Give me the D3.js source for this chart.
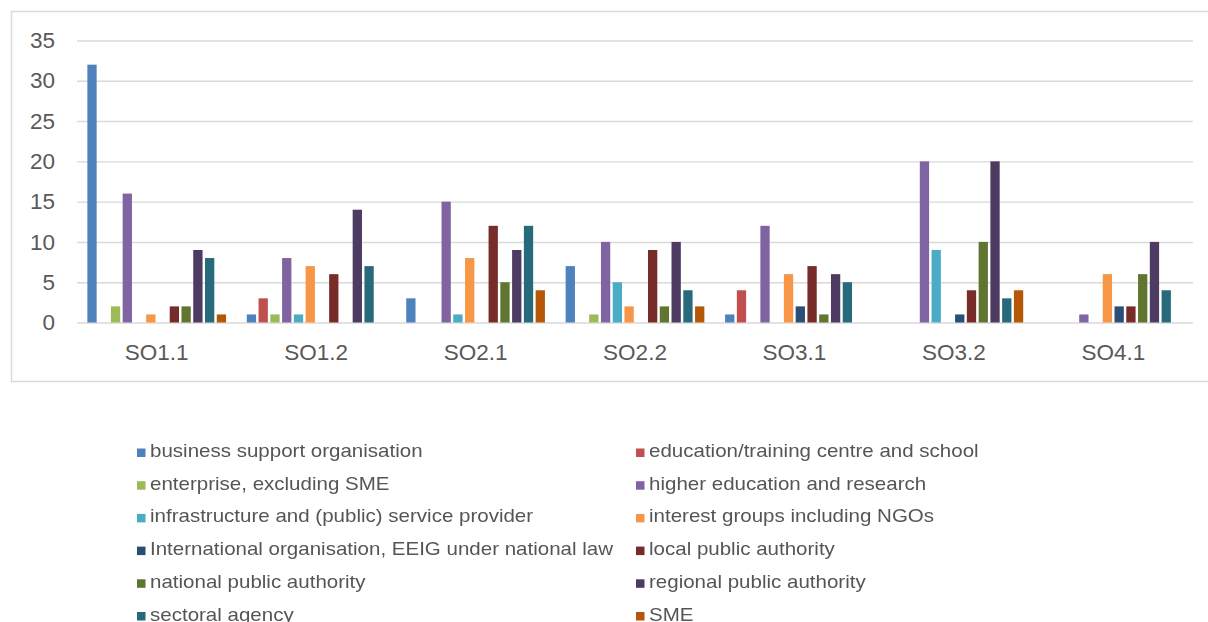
<!DOCTYPE html>
<html>
<head>
<meta charset="utf-8">
<script src="https://cdn.jsdelivr.net/npm/d3@7"></script>
<style>
  html, body { margin: 0; padding: 0; background: #fff; }
  svg { display: block; font-family: "Liberation Sans", Arial, sans-serif; }
</style>
</head>
<body>
<svg id="chart" width="1208" height="622"></svg>
<script>
// Specific objectives on the category axis
const categories = ["SO1.1", "SO1.2", "SO2.1", "SO2.2", "SO3.1", "SO3.2", "SO4.1"];

// Partner types (legend order = bar order within each group)
const seriesNames = [
  "business support organisation",
  "education/training centre and school",
  "enterprise, excluding SME",
  "higher education and research",
  "infrastructure and (public) service provider",
  "interest groups including NGOs",
  "International organisation, EEIG under national law",
  "local public authority",
  "national public authority",
  "regional public authority",
  "sectoral agency",
  "SME"
];

const seriesColors = [
  "#4F81BD", "#C0504D", "#9BBB59", "#8064A2", "#4BACC6", "#F79646",
  "#2C4D75", "#772C2A", "#5F7530", "#4D3B62", "#276A7C", "#B65708"
];

// Counts per partner type, one value per objective (same order as categories)
const businessSupport   = [32, 1, 3, 7, 1, 0, 0];
const educationTraining = [0, 3, 0, 0, 4, 0, 0];
const enterpriseNonSME  = [2, 1, 0, 1, 0, 0, 0];
const higherEducation   = [16, 8, 15, 10, 12, 20, 1];
const infrastructure    = [0, 1, 1, 5, 0, 9, 0];
const interestGroups    = [1, 7, 8, 2, 6, 0, 6];
const internationalOrg  = [0, 0, 0, 0, 2, 1, 2];
const localAuthority    = [2, 6, 12, 9, 7, 4, 2];
const nationalAuthority = [2, 0, 5, 2, 1, 10, 6];
const regionalAuthority = [9, 14, 9, 10, 6, 20, 10];
const sectoralAgency    = [8, 7, 12, 4, 5, 3, 4];
const sme               = [1, 0, 4, 2, 0, 4, 0];

const yTicks = [0, 5, 10, 15, 20, 25, 30, 35];

const seriesValues = [
  businessSupport, educationTraining, enterpriseNonSME, higherEducation,
  infrastructure, interestGroups, internationalOrg, localAuthority,
  nationalAuthority, regionalAuthority, sectoralAgency, sme
];

const svg = d3.select("#chart");

// Outer chart frame
svg.append("rect")
  .attr("x", 11.5).attr("y", 11.5)
  .attr("width", 1200).attr("height", 370)
  .attr("fill", "#fff")
  .attr("stroke", "#d9d9d9")
  .attr("stroke-width", 1.5);

const plot = { left: 77, right: 1193, top: 40.5, bottom: 322.5 };

const x0 = d3.scaleBand()
  .domain(categories)
  .range([plot.left, plot.right])
  .padding(0);

const inset = x0.bandwidth() * 0.065;
const x1 = d3.scaleBand()
  .domain(d3.range(seriesNames.length))
  .range([inset, x0.bandwidth() - inset])
  .paddingInner(0.21)
  .paddingOuter(0);

const y = d3.scaleLinear()
  .domain([0, 35])
  .range([plot.bottom, plot.top]);

// Horizontal gridlines + value labels
const yAxis = d3.axisLeft(y)
  .tickValues(yTicks)
  .tickSize(-(plot.right - plot.left))
  .tickPadding(22);

const gy = svg.append("g")
  .attr("transform", `translate(${plot.left},0)`)
  .call(yAxis);
gy.select(".domain").remove();
gy.selectAll(".tick line")
  .attr("stroke", "#d9d9d9")
  .attr("stroke-width", 1.4);
gy.selectAll(".tick text")
  .attr("fill", "#595959")
  .attr("font-size", 22.5)
  .attr("font-family", "Liberation Sans, Arial, sans-serif");

// Category labels
const xAxis = d3.axisBottom(x0).tickSize(0).tickPadding(22);
const gx = svg.append("g")
  .attr("transform", `translate(0,${plot.bottom})`)
  .call(xAxis);
gx.select(".domain").remove();
gx.selectAll(".tick text")
  .attr("fill", "#595959")
  .attr("font-size", 22.5)
  .attr("font-family", "Liberation Sans, Arial, sans-serif");

// Grouped bars
const groups = svg.append("g").selectAll("g")
  .data(categories)
  .join("g")
  .attr("transform", d => `translate(${x0(d)},0)`);

groups.selectAll("rect")
  .data((cat, ci) => seriesValues.map((vals, si) => ({ si, v: vals[ci] })))
  .join("rect")
  .filter(d => d.v > 0)
  .attr("x", d => x1(d.si))
  .attr("width", x1.bandwidth())
  .attr("y", d => y(d.v))
  .attr("height", d => y(0) - y(d.v))
  .attr("fill", d => seriesColors[d.si]);

// Legend: two columns, filled row by row
const defs = svg.append("defs");
defs.append("filter").attr("id", "soft")
  .append("feGaussianBlur").attr("stdDeviation", 0.45);

const legend = svg.append("g").attr("filter", "url(#soft)");
const colX = [137, 636];
const rowY0 = 457, rowStep = 32.7;

const items = legend.selectAll("g")
  .data(seriesNames)
  .join("g")
  .attr("transform", (d, i) => `translate(${colX[i % 2]},${rowY0 + Math.floor(i / 2) * rowStep})`);

items.append("rect")
  .attr("x", 0).attr("y", -8.5)
  .attr("width", 8.5).attr("height", 8.5)
  .attr("fill", (d, i) => seriesColors[i]);

items.append("text")
  .attr("transform", "translate(13,0) scale(1.14,1)")
  .attr("font-size", 18)
  .attr("fill", "#555555")
  .text(d => d);
</script>
</body>
</html>
